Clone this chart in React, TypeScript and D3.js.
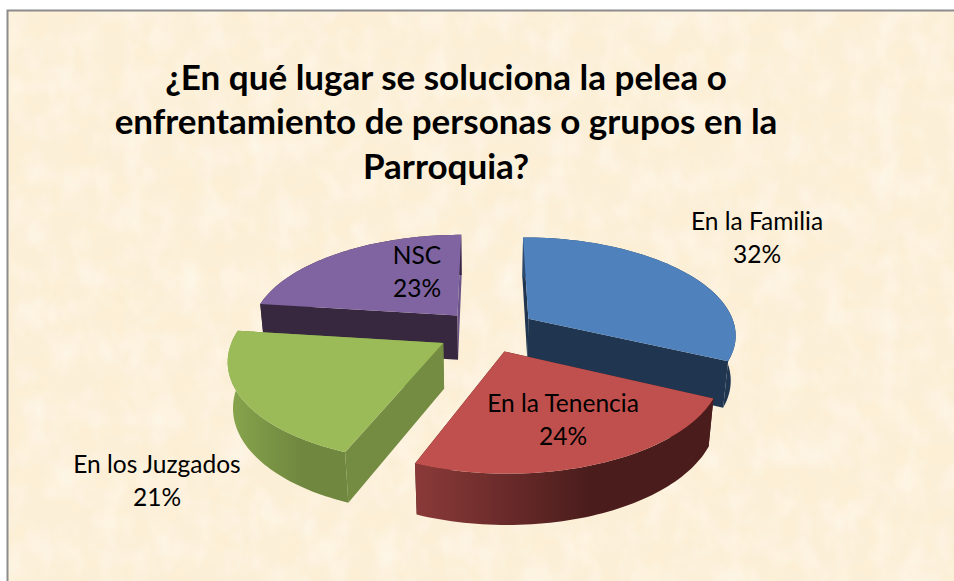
import React, { useMemo } from "react";
import * as d3 from "d3";

const titleLines = [
  "¿En qué lugar se soluciona la pelea o",
  "enfrentamiento de personas o grupos en la",
  "Parroquia?",
];
const titleY = [90, 134, 179];
const categories = ["En la Familia", "En la Tenencia", "En los Juzgados", "NSC"];
const values = [32, 24, 21, 23];
const explode = [0.24, 0.22, 0.24, 0.22];
const topColors = ["#4F81BD", "#C0504D", "#9BBB59", "#8064A2"];
const wallStartColors = ["#1F3550", "#4A1C1C", "#748C42", "#37273F"];
const wallEndColors = ["#1F3550", "#4A1C1C", "#748C42", "#6A5488"];
const arcStops = [
  ["#2C4A70", "#1F3550"],
  ["#8A3A38", "#4A1C1C"],
  ["#86A34C", "#6F873F"],
  ["#37273F", "#37273F"],
];
const labelX = [757, 563, 157, 417];
const labelY = [230, 412, 473, 264];
const drawOrder = [3, 0, 2, 1];

const W = 954, H = 581;
const cx = 487, cy = 331, R = 208, RT = 97, K = 0.15, DEPTH = 46, SHRINK = 0.02;

type P = [number, number];
const project = (u: number, v: number, z: number): P => {
  const s = 1 / (1 - K * v + SHRINK * z);
  return [cx + u * R * s, cy + (v * RT + z * DEPTH) * s];
};

export default function App() {
  const arcs = useMemo(() => d3.pie<number>().sort(null)(values), []);
  const line = d3.line<P>();
  const slices = arcs.map((a, i) => {
    const mid = (a.startAngle + a.endAngle) / 2;
    const u0 = Math.sin(mid) * explode[i], v0 = -Math.cos(mid) * explode[i];
    const rim = (z: number): P[] =>
      d3.range(0, 61).map((t) => {
        const th = a.startAngle + ((a.endAngle - a.startAngle) * t) / 60;
        return project(u0 + Math.sin(th), v0 - Math.cos(th), z);
      });
    const apexTop = project(u0, v0, 0), apexBottom = project(u0, v0, 1);
    const rt = rim(0), rb = rim(1);
    return {
      i,
      top: line([apexTop, ...rt])! + "Z",
      wallStart: line([apexTop, rt[0], rb[0], apexBottom])! + "Z",
      wallEnd: line([apexTop, rt[60], rb[60], apexBottom])! + "Z",
      outer: line([...rt, ...rb.slice().reverse()])! + "Z",
      xs: d3.extent(rb.map((p) => p[0])) as [number, number],
    };
  });

  return (
    <svg
      width={W}
      height={H}
      viewBox={`0 0 ${W} ${H}`}
      style={{ position: "absolute", left: 0, top: 0, fontFamily: "Lato, sans-serif" }}
    >
      <defs>
        <filter id="paperDark" x="0" y="0" width="100%" height="100%">
          <feTurbulence type="fractalNoise" baseFrequency="0.03 0.045" numOctaves={3} seed={7} />
          <feColorMatrix
            type="matrix"
            values="0 0 0 0 0.97  0 0 0 0 0.85  0 0 0 0 0.6  0.8 0 0 0 -0.31"
          />
        </filter>
        <filter id="paperLight" x="0" y="0" width="100%" height="100%">
          <feTurbulence type="fractalNoise" baseFrequency="0.04 0.03" numOctaves={3} seed={23} />
          <feColorMatrix
            type="matrix"
            values="0 0 0 0 1  0 0 0 0 0.98  0 0 0 0 0.94  0.9 0 0 0 -0.36"
          />
        </filter>
        {slices.map((s) => (
          <linearGradient
            key={s.i}
            id={`arc${s.i}`}
            gradientUnits="userSpaceOnUse"
            x1={s.xs[0]}
            x2={s.xs[1]}
            y1={0}
            y2={0}
          >
            <stop offset="0" stopColor={arcStops[s.i][0]} />
            <stop offset="0.6" stopColor={arcStops[s.i][1]} />
            <stop offset="1" stopColor={arcStops[s.i][1]} />
          </linearGradient>
        ))}
      </defs>
      <rect width={W} height={H} fill="#fff" />
      <rect x={8} y={11} width={W - 8} height={H - 11} fill="#FCEFD8" />
      <rect x={8} y={11} width={W - 8} height={H - 11} filter="url(#paperDark)" />
      <rect x={8} y={11} width={W - 8} height={H - 11} filter="url(#paperLight)" />
      <path d={`M7.5 ${H}V10.5H${W}`} fill="none" stroke="#8C8C8C" strokeWidth={2} />

      {drawOrder.map((idx) => {
        const s = slices[idx];
        return (
          <g key={idx}>
            <path d={s.wallStart} fill={wallStartColors[idx]} />
            <path d={s.wallEnd} fill={wallEndColors[idx]} />
            <path d={s.outer} fill={`url(#arc${idx})`} />
            <path d={s.top} fill={topColors[idx]} />
          </g>
        );
      })}

      <g fontWeight={700} fontSize={35} textAnchor="middle" fill="#000">
        {titleLines.map((t, i) => (
          <text key={i} x={446} y={titleY[i]}>{t}</text>
        ))}
      </g>
      <g fontSize={24.5} textAnchor="middle" fill="#000">
        {categories.map((c, i) => (
          <g key={c}>
            <text x={labelX[i]} y={labelY[i]}>{c}</text>
            <text x={labelX[i]} y={labelY[i] + 33}>{values[i]}%</text>
          </g>
        ))}
      </g>
    </svg>
  );
}
